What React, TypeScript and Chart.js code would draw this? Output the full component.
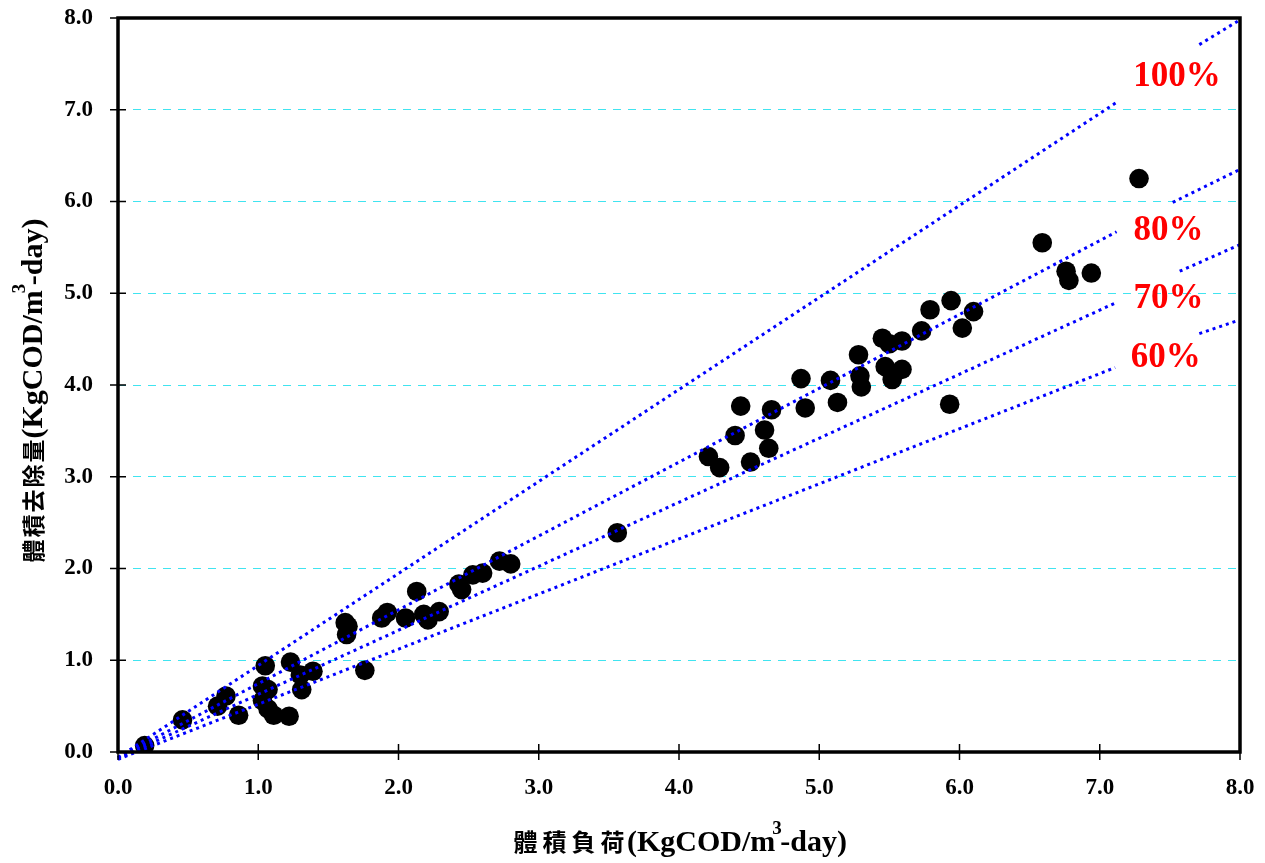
import React, { useEffect, useRef } from "react";
import { Chart, registerables } from "chart.js";

Chart.register(...registerables);

// Observed data: volumetric load (x) vs volumetric removal (y)
const loadX = [
  0.19, 0.46, 0.71, 0.77, 0.86, 1.05, 1.03, 1.07, 1.03, 1.07, 1.11, 1.22, 1.23, 1.3, 1.31, 1.39,
  1.62, 1.64, 1.63, 1.76, 1.88, 1.92, 2.05, 2.13, 2.18, 2.21, 2.29, 2.43, 2.45, 2.53, 2.6, 2.72,
  2.8, 3.56, 4.21, 4.29, 4.4, 4.44, 4.51, 4.61, 4.64, 4.66, 4.87, 4.9, 5.08, 5.13, 5.28, 5.29,
  5.3, 5.45, 5.47, 5.5, 5.52, 5.59, 5.59, 5.73, 5.79, 5.94, 6.02, 6.1, 5.93, 6.59, 6.76, 6.78,
  6.94, 7.28,
];
const removalY = [
  0.07, 0.35, 0.5, 0.61, 0.4, 0.94, 0.72, 0.68, 0.56, 0.47, 0.4, 0.39, 0.98, 0.84, 0.68, 0.88,
  1.41, 1.37, 1.28, 0.89, 1.46, 1.52, 1.46, 1.75, 1.5, 1.44, 1.53, 1.83, 1.77, 1.93, 1.95, 2.08,
  2.05, 2.39, 3.22, 3.1, 3.45, 3.77, 3.16, 3.51, 3.31, 3.73, 4.07, 3.75, 4.05, 3.81, 4.33, 4.1,
  3.98, 4.51, 4.2, 4.45, 4.06, 4.48, 4.17, 4.59, 4.82, 4.92, 4.62, 4.8, 3.79, 5.55, 5.24, 5.14,
  5.22, 6.25,
];

// Efficiency reference lines (null = gap left for the label)
const line100X = [0, 7.13, null, 7.71, 8.0];
const line100Y = [-0.06, 7.09, null, 7.71, 7.98];
const line80X = [0, 7.12, null, 7.52, 8.0];
const line80Y = [-0.06, 5.67, null, 5.99, 6.35];
const line70X = [0, 7.12, null, 7.57, 8.0];
const line70Y = [-0.07, 4.9, null, 5.24, 5.53];
const line60X = [0, 7.11, null, 7.71, 7.98];
const line60Y = [-0.08, 4.19, null, 4.56, 4.7];

const ratioLabels = ["100%", "80%", "70%", "60%"];
const ratioLabelX = [7.55, 7.49, 7.49, 7.47];
const ratioLabelY = [7.36, 5.68, 4.94, 4.29];

const axisTicks = [0, 1, 2, 3, 4, 5, 6, 7, 8];

const SERIF = '"Liberation Serif", "Times New Roman", serif';
const CJK = '"Noto Sans CJK TC", "Noto Sans CJK SC", sans-serif';

type Part = { text: string; font: string; dy?: number; pitch?: number; dx?: number; adv?: number };

function partAdvance(ctx: CanvasRenderingContext2D, p: Part) {
  ctx.font = p.font;
  if (p.pitch) return p.pitch * Array.from(p.text).length;
  if (p.adv !== undefined) return p.adv;
  return ctx.measureText(p.text).width;
}

function drawParts(ctx: CanvasRenderingContext2D, parts: Part[], cx: number, baseY: number) {
  let total = 0;
  for (const p of parts) total += partAdvance(ctx, p);
  let x = cx - total / 2;
  ctx.textAlign = "left";
  ctx.textBaseline = "alphabetic";
  for (const p of parts) {
    ctx.font = p.font;
    if (p.pitch) {
      for (const ch of Array.from(p.text)) {
        const cw = ctx.measureText(ch).width;
        ctx.fillText(ch, x + (p.pitch - cw) / 2, baseY + (p.dy || 0));
        x += p.pitch;
      }
    } else {
      ctx.fillText(p.text, x + (p.dx || 0), baseY + (p.dy || 0));
      x += partAdvance(ctx, p);
    }
  }
}

const decorPlugin = {
  id: "decor",
  afterDatasetsDraw(chart: any) {
    const ctx: CanvasRenderingContext2D = chart.ctx;
    const xs = chart.scales.x;
    const ys = chart.scales.y;
    ctx.save();
    ctx.fillStyle = "#FF0000";
    ctx.font = `bold 35px ${SERIF}`;
    ctx.textAlign = "center";
    ctx.textBaseline = "middle";
    ratioLabels.forEach((t, i) => {
      ctx.fillText(t, xs.getPixelForValue(ratioLabelX[i]), ys.getPixelForValue(ratioLabelY[i]));
    });
    ctx.restore();
  },
  afterDraw(chart: any) {
    const ctx: CanvasRenderingContext2D = chart.ctx;
    const a = chart.chartArea;
    const xs = chart.scales.x;
    const ys = chart.scales.y;
    ctx.save();
    // tick marks crossing the axes
    ctx.strokeStyle = "#000";
    ctx.lineWidth = 1.5;
    ctx.beginPath();
    axisTicks.forEach((v) => {
      const py = ys.getPixelForValue(v);
      ctx.moveTo(a.left - 8, py);
      ctx.lineTo(a.left + 8, py);
      const px = xs.getPixelForValue(v);
      ctx.moveTo(px, a.bottom - 8);
      ctx.lineTo(px, a.bottom + 8);
    });
    ctx.stroke();
    // frame
    ctx.lineWidth = 3.5;
    ctx.strokeRect(a.left, a.top, a.right - a.left, a.bottom - a.top);

    // axis titles
    ctx.fillStyle = "#000";
    const xParts: Part[] = [
      { text: "體積負荷", font: `bold 24px ${CJK}`, pitch: 29 },
      { text: "(KgCOD/m", font: `bold 30px ${SERIF}` },
      { text: "3", font: `bold 19px ${SERIF}`, dy: -17, dx: -3, adv: 5 },
      { text: "-day)", font: `bold 30px ${SERIF}` },
    ];
    drawParts(ctx, xParts, (a.left + a.right) / 2, 851);

    const yParts: Part[] = [
      { text: "體積去除量", font: `bold 23px ${CJK}`, pitch: 25 },
      { text: "(KgCOD/m", font: `bold 30px ${SERIF}` },
      { text: "3", font: `bold 19px ${SERIF}`, dy: -17, dx: -3, adv: 5 },
      { text: "-day)", font: `bold 30px ${SERIF}` },
    ];
    ctx.save();
    ctx.translate(42, 391);
    ctx.rotate(-Math.PI / 2);
    drawParts(ctx, yParts, 0, 0);
    ctx.restore();
    ctx.restore();
  },
};

function zip(xs: (number | null)[], ys: (number | null)[]) {
  return xs.map((x, i) => ({ x, y: ys[i] }));
}

export default function App() {
  const ref = useRef<HTMLCanvasElement>(null);
  useEffect(() => {
    const lineStyle = {
      showLine: true,
      borderColor: "#0000FF",
      backgroundColor: "#0000FF",
      borderWidth: 3,
      borderDash: [3, 4],
      pointRadius: 0,
      pointHoverRadius: 0,
      spanGaps: false,
      clip: false as any,
      order: 1,
    };
    const chart = new Chart(ref.current!, {
      type: "scatter",
      data: {
        datasets: [
          { label: "100%", data: zip(line100X, line100Y) as any, ...lineStyle },
          { label: "80%", data: zip(line80X, line80Y) as any, ...lineStyle },
          { label: "70%", data: zip(line70X, line70Y) as any, ...lineStyle },
          { label: "60%", data: zip(line60X, line60Y) as any, ...lineStyle },
          {
            label: "data",
            data: zip(loadX, removalY) as any,
            pointRadius: 9.8,
            pointBackgroundColor: "#000",
            pointBorderWidth: 0,
            showLine: false,
            order: 2,
          },
        ],
      },
      options: {
        animation: false,
        responsive: false,
        devicePixelRatio: 1,
        layout: { padding: { top: 18, right: 25, left: 0, bottom: 0 } },
        plugins: { legend: { display: false }, tooltip: { enabled: false } },
        scales: {
          x: {
            type: "linear",
            min: 0,
            max: 8,
            afterFit: (s: any) => {
              s.height = 111;
              s.paddingLeft = 0;
              s.paddingRight = 0;
            },
            afterBuildTicks: (s: any) => {
              s.ticks = axisTicks.map((v) => ({ value: v }));
            },
            ticks: {
              padding: 22,
              color: "#000",
              font: { family: SERIF, size: 23, weight: "bold" },
              callback: (v: any) => Number(v).toFixed(1),
              maxRotation: 0,
            },
            grid: { display: false, drawTicks: false },
            border: { display: false },
          },
          y: {
            type: "linear",
            min: 0,
            max: 8,
            afterFit: (s: any) => {
              s.width = 118;
              s.paddingTop = 0;
              s.paddingBottom = 0;
            },
            afterBuildTicks: (s: any) => {
              s.ticks = axisTicks.map((v) => ({ value: v }));
            },
            ticks: {
              padding: 25,
              color: "#000",
              font: { family: SERIF, size: 23, weight: "bold" },
              callback: (v: any) => Number(v).toFixed(1),
            },
            grid: { display: true, drawTicks: false, color: "rgb(64,228,240)", lineWidth: 1 },
            border: { display: false, dash: [8, 7], dashOffset: 0 },
          },
        },
      },
      plugins: [decorPlugin],
    } as any);
    return () => chart.destroy();
  }, []);
  return (
    <div style={{ position: "fixed", left: 0, top: 0, width: 1265, height: 863, background: "#fff" }}>
      <canvas ref={ref} width={1265} height={863} style={{ display: "block", width: 1265, height: 863 }} />
    </div>
  );
}
